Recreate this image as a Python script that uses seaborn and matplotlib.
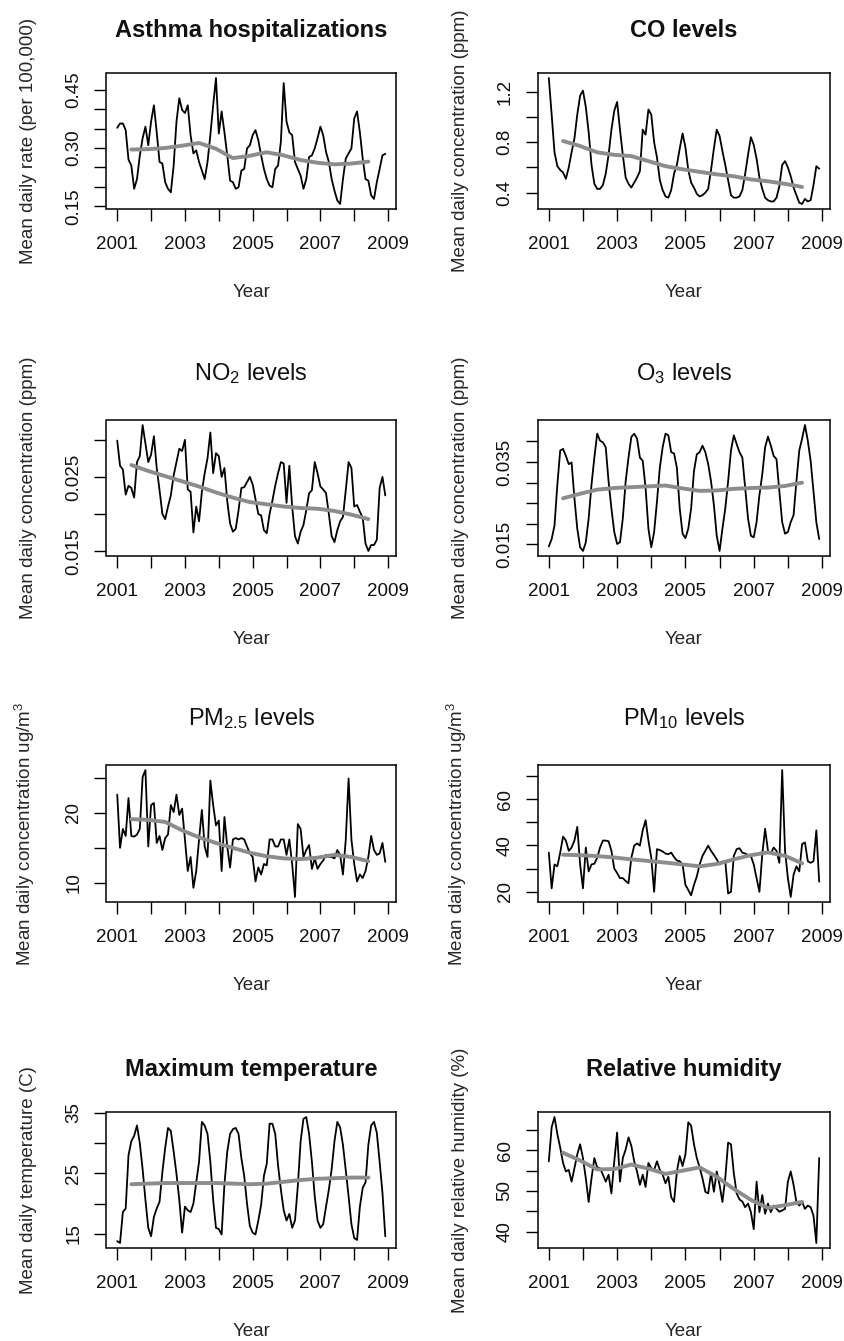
#!/usr/bin/env python3
# -*- coding: utf-8 -*-

"""
plot.py - monthly asthma / air quality / weather series 2001-2008, 4x2 panels
with the smoothed trend drawn in gray on top of each series.
"""

import numpy as np
import pandas as pd
import matplotlib
matplotlib.use("Agg")
import matplotlib.pyplot as plt
import seaborn as sns

# time axis: monthly points Jan 2001 - Dec 2008, trend points every 6 months
months = pd.date_range("2001-01-01", periods=96, freq="MS")
years = months.year + (months.month - 1) / 12.0
trend_months = pd.date_range("2001-06-01", periods=15, freq="6MS")
trend_years = trend_months.year + (trend_months.month - 1) / 12.0

# monthly means
asthma = [0.352, 0.363, 0.363, 0.346, 0.270, 0.255, 0.195, 0.220, 0.280, 0.325, 0.355, 0.307,
          0.368, 0.410, 0.340, 0.264, 0.260, 0.212, 0.195, 0.186, 0.255, 0.368, 0.428, 0.398,
          0.390, 0.410, 0.333, 0.286, 0.294, 0.264, 0.242, 0.220, 0.264, 0.333, 0.410, 0.480,
          0.337, 0.394, 0.340, 0.281, 0.216, 0.212, 0.195, 0.199, 0.242, 0.246, 0.299, 0.307,
          0.333, 0.346, 0.320, 0.281, 0.246, 0.220, 0.203, 0.199, 0.246, 0.255, 0.316, 0.467,
          0.368, 0.340, 0.333, 0.264, 0.246, 0.229, 0.195, 0.220, 0.277, 0.281, 0.299, 0.325,
          0.355, 0.333, 0.290, 0.264, 0.220, 0.190, 0.165, 0.156, 0.220, 0.273, 0.286, 0.299,
          0.376, 0.394, 0.340, 0.273, 0.220, 0.216, 0.178, 0.169, 0.212, 0.246, 0.281, 0.285]

co = [1.31, 1.02, 0.72, 0.61, 0.58, 0.56, 0.51, 0.60, 0.72, 0.83, 1.02, 1.17,
      1.21, 1.08, 0.88, 0.62, 0.47, 0.43, 0.43, 0.46, 0.55, 0.70, 0.90, 1.05,
      1.12, 0.90, 0.70, 0.52, 0.47, 0.44, 0.48, 0.52, 0.57, 0.90, 0.86, 1.06,
      1.02, 0.80, 0.68, 0.50, 0.42, 0.37, 0.36, 0.42, 0.55, 0.62, 0.75, 0.87,
      0.76, 0.58, 0.48, 0.44, 0.39, 0.37, 0.38, 0.40, 0.43, 0.58, 0.75, 0.90,
      0.85, 0.73, 0.62, 0.50, 0.38, 0.36, 0.36, 0.37, 0.42, 0.55, 0.70, 0.84,
      0.78, 0.67, 0.52, 0.43, 0.36, 0.34, 0.33, 0.33, 0.36, 0.45, 0.62, 0.65,
      0.60, 0.53, 0.44, 0.38, 0.32, 0.31, 0.35, 0.33, 0.34, 0.46, 0.61, 0.59]

no2 = [0.0299, 0.0265, 0.0260, 0.0226, 0.0238, 0.0235, 0.0222, 0.0270, 0.0278, 0.0320, 0.0295, 0.0270,
       0.0280, 0.0305, 0.0262, 0.0232, 0.0200, 0.0193, 0.0210, 0.0225, 0.0252, 0.0270, 0.0288, 0.0285,
       0.0300, 0.0233, 0.0230, 0.0175, 0.0210, 0.0190, 0.0230, 0.0255, 0.0275, 0.0310, 0.0255, 0.0282,
       0.0278, 0.0250, 0.0262, 0.0217, 0.0187, 0.0176, 0.0180, 0.0205, 0.0235, 0.0236, 0.0243, 0.0250,
       0.0240, 0.0220, 0.0200, 0.0198, 0.0178, 0.0174, 0.0200, 0.0218, 0.0238, 0.0255, 0.0270, 0.0268,
       0.0215, 0.0265, 0.0210, 0.0170, 0.0160, 0.0176, 0.0185, 0.0205, 0.0228, 0.0232, 0.0270, 0.0255,
       0.0237, 0.0233, 0.0228, 0.0200, 0.0170, 0.0162, 0.0178, 0.0190, 0.0196, 0.0232, 0.0270, 0.0262,
       0.0210, 0.0212, 0.0203, 0.0195, 0.0160, 0.0150, 0.0158, 0.0158, 0.0165, 0.0235, 0.0250, 0.0225]

o3 = [0.0145, 0.0163, 0.0196, 0.0295, 0.0378, 0.0382, 0.0365, 0.0345, 0.0349, 0.0262, 0.0188, 0.0143,
      0.0134, 0.0155, 0.0213, 0.0295, 0.0361, 0.0419, 0.0402, 0.0398, 0.0386, 0.0303, 0.0237, 0.0180,
      0.0151, 0.0155, 0.0213, 0.0303, 0.0361, 0.0411, 0.0419, 0.0407, 0.0361, 0.0353, 0.0287, 0.0188,
      0.0143, 0.0180, 0.0254, 0.0336, 0.0386, 0.0419, 0.0415, 0.0374, 0.0371, 0.0336, 0.0237, 0.0176,
      0.0165, 0.0188, 0.0237, 0.0328, 0.0369, 0.0374, 0.0390, 0.0374, 0.0345, 0.0303, 0.0246, 0.0171,
      0.0134, 0.0188, 0.0237, 0.0303, 0.0378, 0.0415, 0.0394, 0.0374, 0.0361, 0.0287, 0.0213, 0.0171,
      0.0167, 0.0204, 0.0270, 0.0320, 0.0386, 0.0412, 0.0390, 0.0365, 0.0357, 0.0279, 0.0204, 0.0176,
      0.0180, 0.0204, 0.0221, 0.0303, 0.0378, 0.0407, 0.0440, 0.0402, 0.0353, 0.0279, 0.0204, 0.0163]

pm25 = [22.6, 15.0, 17.7, 16.7, 22.1, 16.7, 16.6, 16.9, 17.7, 25.1, 26.1, 15.2,
        21.1, 21.4, 15.7, 16.7, 14.7, 16.4, 16.9, 21.1, 20.1, 22.6, 19.7, 20.6,
        16.2, 11.7, 13.7, 9.3, 11.7, 16.2, 20.4, 15.2, 13.7, 24.6, 21.1, 18.2,
        18.9, 11.7, 19.4, 15.2, 12.2, 16.2, 16.4, 16.2, 16.4, 16.2, 15.2, 14.2,
        13.7, 10.2, 12.2, 11.2, 12.7, 12.5, 16.2, 16.2, 15.2, 15.2, 16.2, 16.2,
        14.0, 16.2, 12.7, 8.0, 18.4, 17.7, 13.7, 14.7, 15.4, 12.0, 13.5, 12.0,
        12.7, 13.2, 14.0, 13.7, 13.7, 13.5, 14.7, 14.0, 11.2, 16.2, 24.9, 16.2,
        12.7, 10.2, 11.2, 10.7, 11.7, 13.7, 16.7, 14.7, 14.0, 14.2, 15.7, 13.0]

pm10 = [36.9, 21.5, 31.8, 31.0, 36.9, 43.8, 42.1, 37.7, 39.1, 42.1, 48.0, 31.8,
        21.5, 39.1, 28.8, 31.8, 32.1, 34.7, 39.1, 42.1, 42.1, 41.8, 37.7, 30.0,
        28.1, 25.9, 25.9, 24.7, 23.7, 34.7, 39.9, 40.9, 39.9, 46.5, 50.9, 42.1,
        34.7, 20.0, 38.4, 38.0, 37.4, 36.5, 36.2, 36.9, 35.0, 33.5, 33.2, 31.8,
        23.0, 20.8, 18.5, 23.0, 26.6, 31.8, 35.5, 37.7, 39.9, 37.7, 35.9, 34.0,
        31.8, 32.5, 33.2, 19.3, 20.0, 35.5, 38.4, 38.8, 36.9, 36.5, 35.9, 35.5,
        31.8, 25.9, 20.0, 36.2, 47.2, 37.7, 36.5, 39.1, 37.7, 32.5, 72.5, 37.7,
        25.9, 17.8, 27.4, 31.0, 28.8, 40.6, 41.3, 33.2, 32.5, 33.2, 46.5, 24.4]

tmax = [13.8, 13.5, 18.6, 19.2, 28.0, 30.3, 31.2, 32.9, 30.0, 25.7, 20.6, 16.0,
        14.6, 17.8, 19.2, 20.3, 25.2, 29.2, 32.5, 32.0, 28.6, 24.9, 20.6, 15.2,
        19.5, 18.9, 18.6, 20.0, 23.5, 26.9, 33.5, 32.9, 31.5, 26.9, 20.6, 16.0,
        15.8, 14.9, 23.2, 28.6, 31.5, 32.3, 32.5, 31.5, 27.5, 24.6, 20.0, 16.3,
        15.2, 14.9, 17.2, 19.8, 24.6, 26.6, 33.2, 33.2, 31.5, 26.3, 22.3, 18.9,
        17.2, 18.3, 16.0, 17.2, 22.9, 30.3, 34.0, 34.3, 31.5, 26.9, 21.2, 17.2,
        16.0, 16.6, 19.5, 22.3, 25.7, 30.3, 33.5, 32.6, 29.7, 25.5, 21.2, 16.6,
        14.3, 14.0, 19.5, 22.6, 23.5, 29.7, 32.9, 33.5, 31.7, 26.9, 21.8, 14.6]

rhum = [57.3, 65.7, 68.2, 64.0, 60.7, 56.9, 54.8, 55.2, 52.3, 55.6, 59.0, 61.5,
        58.1, 53.1, 47.3, 53.1, 58.1, 55.8, 55.6, 54.0, 52.3, 54.0, 49.4, 57.3,
        64.4, 52.3, 58.1, 60.2, 63.2, 61.1, 57.3, 54.8, 51.5, 54.0, 51.0, 56.9,
        55.6, 55.2, 57.3, 55.2, 54.0, 51.9, 53.5, 48.5, 47.3, 54.8, 58.6, 56.1,
        59.0, 66.9, 66.1, 61.5, 58.1, 55.8, 53.1, 49.8, 49.4, 54.4, 49.8, 54.8,
        51.5, 47.3, 53.1, 61.9, 61.5, 54.4, 49.4, 47.9, 47.4, 46.0, 46.9, 44.8,
        40.6, 52.3, 44.8, 49.0, 44.4, 46.9, 44.8, 46.4, 45.6, 44.9, 45.2, 45.6,
        52.3, 54.8, 51.5, 47.3, 46.4, 47.3, 45.6, 46.4, 46.0, 43.9, 37.2, 58.1]

# gray smoothed trend, read every 6 months
asthma_trend = [0.296, 0.297, 0.300, 0.306, 0.313, 0.298, 0.274, 0.280, 0.289, 0.281, 0.269, 0.262, 0.258, 0.260, 0.265]
co_trend = [0.81, 0.77, 0.72, 0.70, 0.69, 0.65, 0.61, 0.585, 0.565, 0.545, 0.53, 0.505, 0.49, 0.47, 0.445]
no2_trend = [0.0266, 0.0258, 0.0251, 0.0244, 0.0237, 0.0229, 0.0222, 0.0216, 0.0213, 0.0210, 0.0208, 0.0207, 0.0204, 0.0199, 0.0193]
o3_trend = [0.0262, 0.0273, 0.0283, 0.0287, 0.0289, 0.0291, 0.0293, 0.0286, 0.0280, 0.0281, 0.0285, 0.0287, 0.0288, 0.0292, 0.0300]
pm25_trend = [19.1, 19.0, 18.7, 17.5, 16.5, 15.7, 15.0, 14.3, 13.8, 13.5, 13.4, 13.6, 14.0, 13.7, 13.1]
pm10_trend = [36.0, 35.8, 35.4, 34.8, 34.0, 33.3, 32.6, 31.8, 31.0, 32.0, 34.0, 35.8, 37.0, 35.5, 32.3]
tmax_trend = [23.2, 23.3, 23.4, 23.4, 23.4, 23.4, 23.3, 23.2, 23.3, 23.6, 23.9, 24.1, 24.2, 24.3, 24.3]
rhum_trend = [59.4, 57.5, 55.3, 55.4, 56.5, 55.5, 54.2, 55.0, 55.8, 53.5, 50.5, 47.8, 45.8, 46.5, 47.3]

# titles, axis labels and y ticks (labels that R dropped for overlap are blank)
titles = ["Asthma hospitalizations", "CO levels", "NO$_{2}$ levels", "O$_{3}$ levels",
          "PM$_{2.5}$ levels", "PM$_{10}$ levels", "Maximum temperature", "Relative humidity"]
title_bold = [True, True, False, False, False, False, True, True]
ylabels = ["Mean daily rate (per 100,000)", "Mean daily concentration (ppm)",
           "Mean daily concentration (ppm)", "Mean daily concentration (ppm)",
           "Mean daily concentration ug/m$^{3}$", "Mean daily concentration ug/m$^{3}$",
           "Mean daily temperature (C)", "Mean daily relative humidity (%)"]
yticks = [[0.15, 0.20, 0.25, 0.30, 0.35, 0.40, 0.45],
          [0.4, 0.6, 0.8, 1.0, 1.2],
          [0.015, 0.020, 0.025, 0.030],
          [0.015, 0.020, 0.025, 0.030, 0.035, 0.040],
          [10, 15, 20, 25],
          [20, 30, 40, 50, 60, 70],
          [15, 20, 25, 30, 35],
          [40, 45, 50, 55, 60, 65]]
ytick_text = [["0.15", "", "", "0.30", "", "", "0.45"],
              ["0.4", "", "0.8", "", "1.2"],
              ["0.015", "", "0.025", ""],
              ["0.015", "", "", "", "0.035", ""],
              ["10", "", "20", ""],
              ["20", "", "40", "", "60", ""],
              ["15", "", "25", "", "35"],
              ["40", "", "50", "", "60", ""]]
xticks = [2001, 2002, 2003, 2004, 2005, 2006, 2007, 2008, 2009]
xtick_text = ["2001", "", "2003", "", "2005", "", "2007", "", "2009"]

series = [asthma, co, no2, o3, pm25, pm10, tmax, rhum]
trends = [asthma_trend, co_trend, no2_trend, o3_trend, pm25_trend, pm10_trend, tmax_trend, rhum_trend]

# panel boxes in pixels (left, top, width, height)
W, H = 845, 1341
col_x = [(106.5, 289.5), (538, 292)]
row_y = [(73, 136), (420, 136), (765, 137), (1112, 136)]


def main():
    sns.set_theme(style="ticks")
    plt.rcParams["font.family"] = ["Liberation Sans", "DejaVu Sans"]
    plt.rcParams["mathtext.fontset"] = "custom"
    plt.rcParams["mathtext.rm"] = "Liberation Sans"
    plt.rcParams["mathtext.default"] = "regular"
    plt.rcParams["text.color"] = "#111111"

    fig = plt.figure(figsize=(W / 100, H / 100), dpi=100)
    fig.patch.set_facecolor("white")

    for i in range(8):
        x0, w = col_x[i % 2]
        y0, h = row_y[i // 2]
        ax = fig.add_axes([x0 / W, 1 - (y0 + h) / H, w / W, h / H])
        ax.set_facecolor("white")

        df = pd.DataFrame({"year": years, "value": series[i]})
        tdf = pd.DataFrame({"year": trend_years, "value": trends[i]})
        sns.lineplot(data=df, x="year", y="value", color="black", linewidth=1.3, ax=ax)
        sns.lineplot(data=tdf, x="year", y="value", color="#8c8c8c", linewidth=2.8, ax=ax)
        ax.margins(x=0.04, y=0.04)

        ax.set_xticks(xticks, labels=xtick_text)
        ax.set_yticks(yticks[i], labels=ytick_text[i])
        ax.tick_params(axis="both", direction="out", length=8.5, width=1.0,
                       color="black", labelsize=13.5, labelcolor="#111111")
        ax.tick_params(axis="x", pad=11)
        ax.tick_params(axis="y", pad=9, labelrotation=90)
        for lbl in ax.get_yticklabels():
            lbl.set_va("center")

        for sp in ax.spines.values():
            sp.set_visible(True)
            sp.set_color("black")
            sp.set_linewidth(1.1)

        ax.set_xlabel("Year", fontsize=13.5, labelpad=22)
        ax.set_ylabel(ylabels[i], fontsize=13.5, labelpad=20)
        ax.set_title(titles[i], fontsize=17, pad=26 if title_bold[i] else 29,
                     fontweight="bold" if title_bold[i] else "normal")

    fig.savefig("out.png", dpi=100, facecolor="white")


if __name__ == "__main__":
    main()
